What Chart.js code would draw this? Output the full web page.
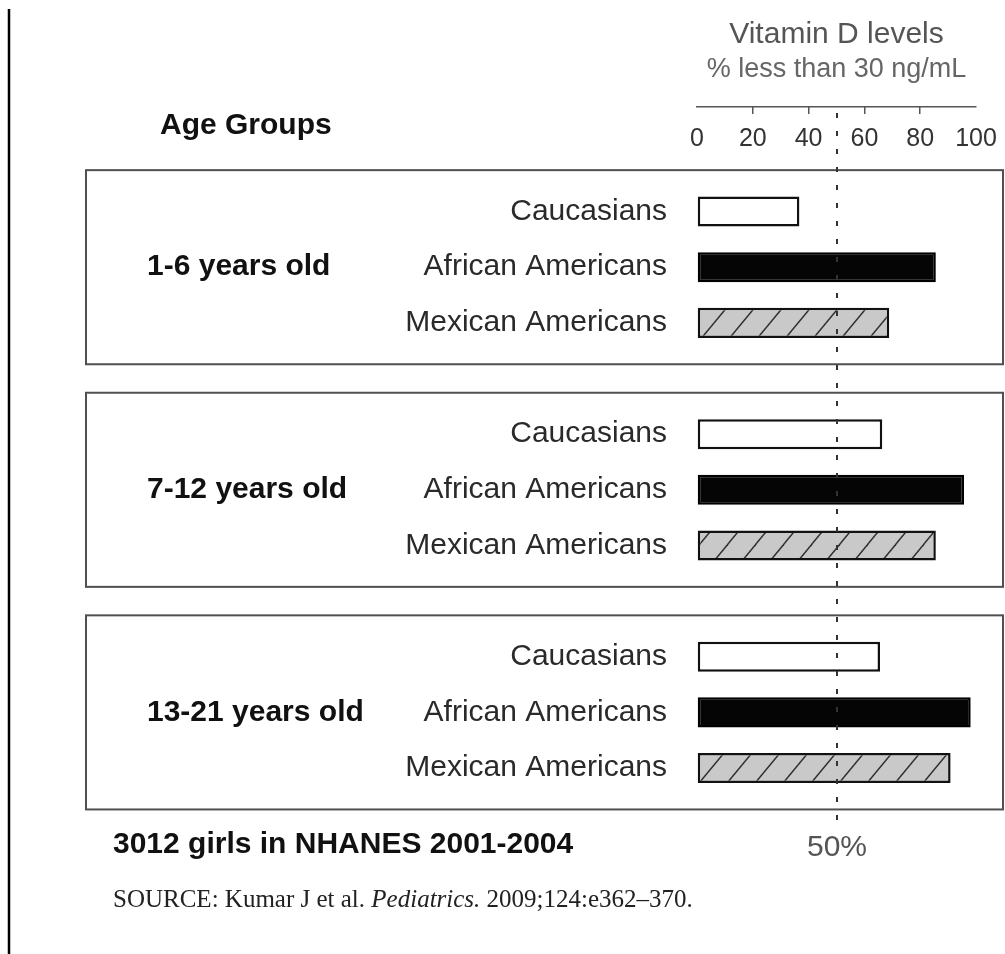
<!DOCTYPE html>
<html>
<head>
<meta charset="utf-8">
<title>Vitamin D levels by age group</title>
<script src="https://cdn.jsdelivr.net/npm/chart.js@4/dist/chart.umd.min.js"></script>
<style>
  html, body { margin: 0; padding: 0; background: #ffffff; }
  canvas { display: block; }
</style>
</head>
<body>
<canvas id="chart" width="1005" height="954"></canvas>
<script>
// Age groups (one panel each) and the three ethnic groups within every panel
const ageGroups = ['1-6 years old', '7-12 years old', '13-21 years old'];
const ethnicities = ['Caucasians', 'African Americans', 'Mexican Americans'];

// % of girls with 25(OH)D below 30 ng/mL
const caucasians = [36.7, 66.4, 65.6];
const africanAmericans = [85.6, 95.7, 98.1];
const mexicanAmericans = [68.9, 85.6, 90.9];

// Percentage axis ticks and the 50% reference line
const axisTicks = [0, 20, 40, 60, 80, 100];
const referenceLevel = 50;

const titleText = 'Vitamin D levels';
const subtitleText = '% less than 30 ng/mL';
const groupHeader = 'Age Groups';
const footnote = '3012 girls in NHANES 2001-2004';
const sourceParts = [
  ['SOURCE: Kumar J et al. ', 'normal'],
  ['Pediatrics.', 'italic'],
  [' 2009;124:e362\u2013370.', 'normal']
];

const SANS = '"Liberation Sans", Arial, Helvetica, sans-serif';
const SERIF = '"Liberation Serif", "Times New Roman", serif';

// Grey fill with diagonal hatching for the Mexican American bars
function makeHatch() {
  const w = 28, h = 34;
  const c = document.createElement('canvas');
  c.width = w; c.height = h;
  const g = c.getContext('2d');
  g.fillStyle = '#c9c9c9';
  g.fillRect(0, 0, w, h);
  g.strokeStyle = '#2e2e2e';
  g.lineWidth = 1.4;
  const seg = (x0, y0, x1, y1) => { g.beginPath(); g.moveTo(x0, y0); g.lineTo(x1, y1); g.stroke(); };
  seg(-2, h + 2.4, w + 2, -2.4);
  seg(-2 - w, h + 2.4, 2, -2.4);
  seg(w - 2, h + 2.4, 2 * w + 2, -2.4);
  return g.createPattern(c, 'repeat');
}

const toPoints = arr => arr.map((v, i) => ({ x: v, y: i }));

function text(ctx, str, x, y, font, color, align, baseline) {
  ctx.font = font;
  ctx.fillStyle = color;
  ctx.textAlign = align || 'left';
  ctx.textBaseline = baseline || 'middle';
  ctx.fillText(str, x, y);
}

// Panel frames, left rule, dashed 50% line and the free text around the plot
const decorations = {
  id: 'decorations',
  beforeDatasetsDraw(chart) {
    const { ctx, scales: { y }, width } = chart;
    ctx.save();
    // left rule of the page
    ctx.strokeStyle = '#000';
    ctx.lineWidth = 2.5;
    ctx.beginPath();
    ctx.moveTo(9, 9);
    ctx.lineTo(9, chart.height);
    ctx.stroke();
    // one frame per age group
    ctx.strokeStyle = '#505050';
    ctx.lineWidth = 2;
    ageGroups.forEach((_, i) => {
      const top = y.getPixelForValue(i - 0.436);
      const bottom = y.getPixelForValue(i + 0.436);
      ctx.strokeRect(86, top, width - 88, bottom - top);
    });
    ctx.restore();
  },
  afterDatasetsDraw(chart) {
    const { ctx, chartArea, scales: { x } } = chart;
    ctx.save();
    // category label beside every bar
    chart.data.datasets.forEach((ds, di) => {
      chart.getDatasetMeta(di).data.forEach(bar => {
        text(ctx, ds.label, chartArea.left - 30, bar.y, '30px ' + SANS, '#2a2a2a', 'right');
      });
    });
    // dashed reference line
    const rx = Math.round(x.getPixelForValue(referenceLevel));
    ctx.strokeStyle = '#333';
    ctx.lineWidth = 2;
    ctx.setLineDash([5, 13]);
    ctx.beginPath();
    ctx.moveTo(rx, chartArea.top + 6);
    ctx.lineTo(rx, chartArea.bottom);
    ctx.stroke();
    ctx.setLineDash([]);
    text(ctx, referenceLevel + '%', rx, 848, '30px ' + SANS, '#555', 'center');
    // headers and notes
    text(ctx, groupHeader, 160, 126, 'bold 30px ' + SANS, '#111');
    text(ctx, footnote, 113, 845, 'bold 30px ' + SANS, '#111');
    let sx = 113;
    sourceParts.forEach(([str, style]) => {
      const f = (style === 'italic' ? 'italic ' : '') + '25px ' + SERIF;
      text(ctx, str, sx, 900, f, '#222');
      sx += ctx.measureText(str).width;
    });
    ctx.restore();
  }
};

const barStyle = { borderWidth: 2.5, borderSkipped: false, barPercentage: 0.54, categoryPercentage: 0.75 };

new Chart(document.getElementById('chart'), {
  type: 'bar',
  data: {
    datasets: [
      Object.assign({ label: ethnicities[0], data: toPoints(caucasians), backgroundColor: '#ffffff', borderColor: '#111' }, barStyle),
      Object.assign({ label: ethnicities[1], data: toPoints(africanAmericans), backgroundColor: '#050505', borderColor: '#000' }, barStyle),
      Object.assign({ label: ethnicities[2], data: toPoints(mexicanAmericans), backgroundColor: makeHatch(), borderColor: '#111' }, barStyle)
    ]
  },
  options: {
    indexAxis: 'y',
    responsive: false,
    animation: false,
    devicePixelRatio: 1,
    layout: { padding: { left: 147, right: 29, top: 0, bottom: 122 } },
    plugins: {
      legend: { display: false },
      tooltip: { enabled: false },
      title: {
        display: true, text: titleText, fullSize: false, color: '#555',
        font: { family: SANS, size: 30, weight: 'normal' },
        padding: { top: 17, bottom: 0 }
      },
      subtitle: {
        display: true, text: subtitleText, fullSize: false, color: '#666',
        font: { family: SANS, size: 27, weight: 'normal' },
        padding: { top: 0, bottom: 0 }
      }
    },
    scales: {
      x: {
        type: 'linear',
        position: 'top',
        offset: false,
        min: axisTicks[0],
        max: axisTicks[axisTicks.length - 1],
        afterBuildTicks: s => { s.ticks = axisTicks.map(v => ({ value: v })); },
        afterFit: s => { s.height = 21.6; s.paddingLeft = 0; s.paddingRight = 0; },
        ticks: {
          mirror: true, padding: 17, maxRotation: 0, autoSkip: false,
          color: '#333', font: { family: SANS, size: 25 }
        },
        grid: {
          drawOnChartArea: false, drawTicks: true, tickLength: -7, lineWidth: 1.5,
          color: c => (c.tick && (c.tick.value === axisTicks[0] || c.tick.value === axisTicks[axisTicks.length - 1])) ? 'rgba(0,0,0,0)' : '#555'
        },
        border: { display: true, color: '#555', width: 1.5 }
      },
      y: {
        type: 'linear',
        reverse: true,
        offset: false,
        min: -0.7197,
        max: 2.5373,
        afterBuildTicks: s => { s.ticks = ageGroups.map((_, i) => ({ value: i })); },
        afterFit: s => { s.width = 550; },
        ticks: {
          crossAlign: 'far', autoSkip: false, color: '#111',
          font: { family: SANS, size: 30, weight: 'bold' },
          callback: v => ageGroups[v]
        },
        grid: { display: false, offset: false },
        border: { display: false }
      }
    }
  },
  plugins: [decorations]
});
</script>
</body>
</html>
